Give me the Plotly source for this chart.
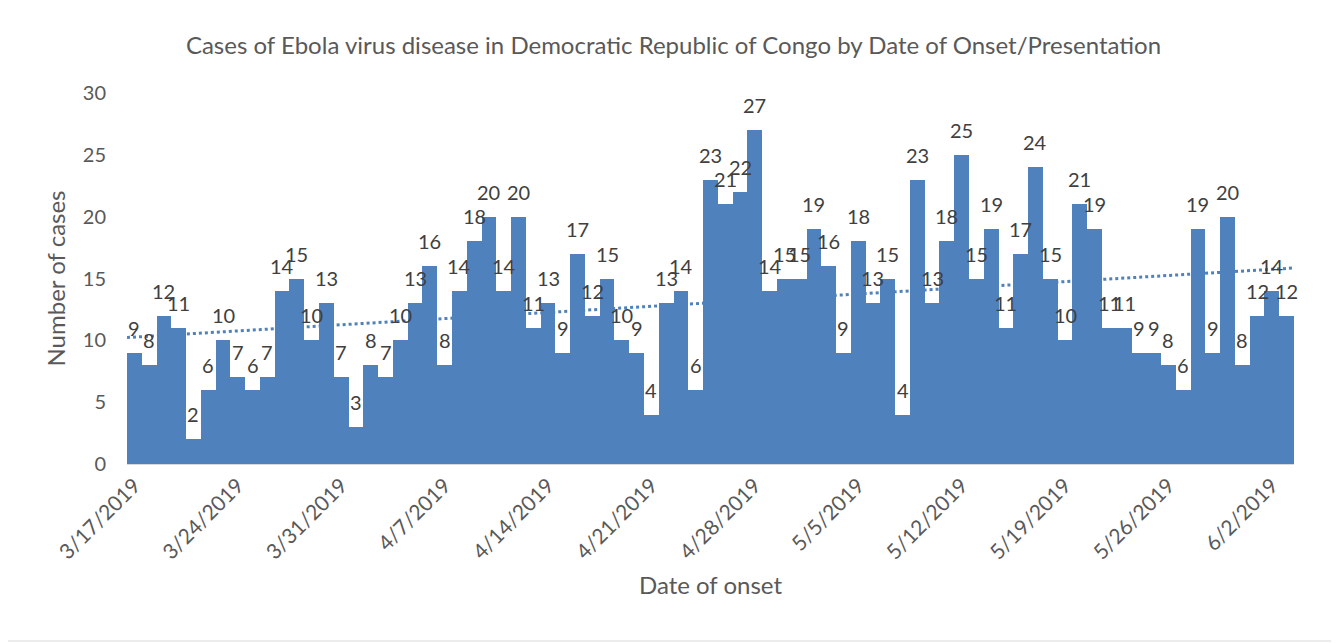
import numpy as np
import pandas as pd
import plotly.graph_objects as go

start_date = "2019-03-17"
cases = [9, 8, 12, 11, 2, 6, 10, 7, 6, 7, 14, 15, 10, 13, 7,
         3, 8, 7, 10, 13, 16, 8, 14, 18, 20, 14, 20, 11, 13, 9,
         17, 12, 15, 10, 9, 4, 13, 14, 6, 23, 21, 22, 27, 14, 15,
         15, 19, 16, 9, 18, 13, 15, 4, 23, 13, 18, 25, 15, 19, 11,
         17, 24, 15, 10, 21, 19, 11, 11, 9, 9, 8, 6, 19, 9, 20, 8,
         12, 14, 12]
dates = pd.date_range(start_date, periods=len(cases), freq="D")

title_text = "Cases of Ebola virus disease in Democratic Republic of Congo by Date of Onset/Presentation"
x_title = "Date of onset"
y_title = "Number of cases"

FONT = "Lato"
BLUE = "#4F81BD"
GREY = "#595959"

# linear trendline (as Excel does)
idx = np.arange(1, len(cases) + 1)
slope, intercept = np.polyfit(idx, cases, 1)
trend_start = intercept + slope * 0.5
trend_end = intercept + slope * (len(cases) + 0.5)

fig = go.Figure()
fig.add_trace(go.Bar(
    x=dates, y=cases,
    marker=dict(color=BLUE, line=dict(width=0)),
    hoverinfo="x+y",
))

for d, v in zip(dates, cases):
    fig.add_annotation(x=d, y=v, text=str(v), showarrow=False, xref="x", yref="y",
                       yshift=25, xanchor="center", yanchor="middle",
                       font=dict(family=FONT, size=20, color="#404040"))

x0 = dates[0] - pd.Timedelta(hours=12)
x1 = dates[-1] + pd.Timedelta(hours=12)

# page body has an 8px offset
W, H = 1331, 635
L, R, T, B = 119, 45, 85, 179
pw, ph = W - L - R, H - T - B

def px_x(p):
    return (p - 8 - L) / pw

def px_y(p):
    return (H - B - (p - 8)) / ph

fig.update_layout(
    width=W, height=H,
    margin=dict(l=L, r=R, t=T, b=B, autoexpand=False),
    paper_bgcolor="white", plot_bgcolor="white",
    bargap=0,
    showlegend=False,
    title=dict(text=title_text, x=0.5, xanchor="center", y=1 - 38 / H, yanchor="middle",
               font=dict(family=FONT, size=24, color=GREY)),
    xaxis=dict(
        type="date",
        range=[x0, x1],
        tick0=dates[0], dtick=7 * 24 * 3600 * 1000,
        tickformat="%-m/%-d/%Y",
        tickangle=-45,
        tickfont=dict(family=FONT, size=21, color=GREY),
        showgrid=False, zeroline=False,
        showline=True, linecolor="#D9D9D9", linewidth=1,
        ticks="",
        title=dict(text=x_title, font=dict(family=FONT, size=24, color=GREY), standoff=14),
    ),
    yaxis=dict(
        range=[0, 30], dtick=5,
        tickfont=dict(family=FONT, size=20, color=GREY),
        showgrid=False, zeroline=False, showline=False,
        ticks="", ticklabelstandoff=20,
        title=dict(text=y_title, font=dict(family=FONT, size=24, color=GREY), standoff=10),
    ),
    shapes=[
        dict(type="line", xref="x", yref="y", x0=x0, x1=x1, y0=trend_start, y1=trend_end,
             line=dict(color=BLUE, width=3, dash="dot"), layer="below"),
        dict(type="rect", xref="paper", yref="paper",
             x0=px_x(6), x1=px_x(1334), y0=px_y(641), y1=px_y(2),
             line=dict(color="#D9D9D9", width=1), fillcolor="rgba(0,0,0,0)", layer="below"),
    ],
)

fig.write_html("out.html")
